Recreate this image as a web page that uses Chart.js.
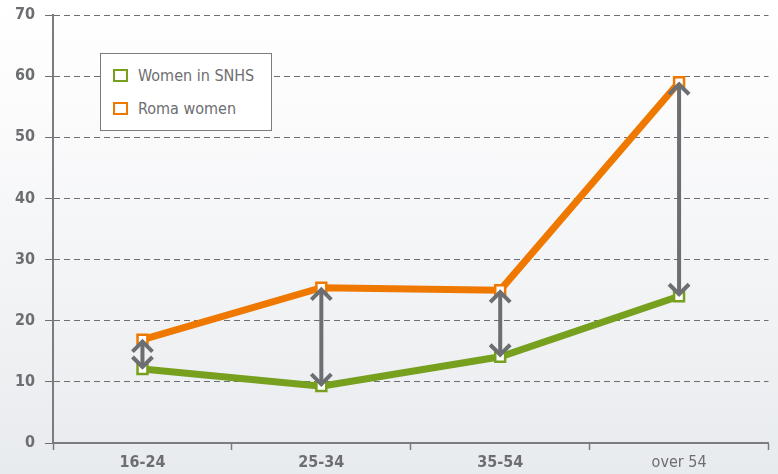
<!DOCTYPE html>
<html>
<head>
<meta charset="utf-8">
<script src="https://cdn.jsdelivr.net/npm/chart.js@4.4.0/dist/chart.umd.min.js"></script>
<style>
  html, body { margin: 0; padding: 0; }
  body { width: 778px; height: 474px; overflow: hidden; }
  .wrap {
    position: relative; width: 778px; height: 474px;
    background: linear-gradient(to bottom, #ffffff 0%, #fbfbfc 25%, #e8ebee 100%);
  }
  #legend {
    position: absolute; left: 100px; top: 53px; width: 172px; height: 78px;
    border: 1.5px solid #7c7c80; background: #fff; box-sizing: border-box;
    font-family: 'DejaVu Sans Condensed', sans-serif;
    font-size: 16px; color: #6d6e71;
  }
  #legend div { position: absolute; left: 12px; height: 20px; line-height: 20px; }
  #legend span.box {
    display: inline-block; width: 11px; height: 9px; border: 2.5px solid; vertical-align: -1px;
    margin-right: 10px; background: #fff;
  }
</style>
</head>
<body>
<div class="wrap">
  <canvas id="gap" width="778" height="474"></canvas>
  <div id="legend"></div>
</div>
<script>
const ageGroups = ['16-24', '25-34', '35-54', 'over 54'];
const womenSNHS = [12.1, 9.3, 14.1, 24.0];
const romaWomen = [16.9, 25.4, 25.0, 59.0];
const yTicks = [0, 10, 20, 30, 40, 50, 60, 70];

const green = '#76a01e';
const orange = '#ef7800';
const grey = '#6d6e71';
const font = "'DejaVu Sans Condensed', sans-serif";

// double headed arrows between the two series
const gapArrows = {
  id: 'gapArrows',
  afterDatasetsDraw(chart) {
    const ctx = chart.ctx;
    const x = chart.scales.x, y = chart.scales.y;
    ctx.save();
    ctx.strokeStyle = grey;
    ctx.lineWidth = 4;
    ctx.lineCap = 'butt';
    ctx.lineJoin = 'miter';
    ageGroups.forEach((g, i) => {
      const px = x.getPixelForValue(i);
      const top = y.getPixelForValue(romaWomen[i]) + 2;
      const bot = y.getPixelForValue(womenSNHS[i]) - 2;
      const h = 10;
      ctx.beginPath();
      ctx.moveTo(px, top); ctx.lineTo(px, bot);
      ctx.stroke();
      ctx.beginPath();
      ctx.moveTo(px - h, top + h); ctx.lineTo(px, top); ctx.lineTo(px + h, top + h);
      ctx.moveTo(px - h, bot - h); ctx.lineTo(px, bot); ctx.lineTo(px + h, bot - h);
      ctx.stroke();
    });
    ctx.restore();
  }
};

const chart = new Chart(document.getElementById('gap'), {
  type: 'line',
  data: {
    labels: ageGroups,
    datasets: [{
      label: 'Women in SNHS',
      data: womenSNHS,
      borderColor: green,
      backgroundColor: '#fff',
      borderWidth: 7,
      pointStyle: 'rect',
      pointRadius: 7,
      pointBorderWidth: 2.5,
      pointBorderColor: green,
      pointBackgroundColor: '#fff'
    }, {
      label: 'Roma women',
      data: romaWomen,
      borderColor: orange,
      backgroundColor: '#fff',
      borderWidth: 7,
      pointStyle: 'rect',
      pointRadius: 7,
      pointBorderWidth: 2.5,
      pointBorderColor: orange,
      pointBackgroundColor: '#fff'
    }]
  },
  options: {
    responsive: false,
    animation: false,
    layout: { padding: { top: 0, right: 4, left: 5, bottom: -2 } },
    plugins: { legend: { display: false }, tooltip: { enabled: false } },
    scales: {
      x: {
        offset: true,
        grid: { drawOnChartArea: false, drawTicks: true, tickLength: 7, tickColor: '#7c7c80', tickWidth: 1.5, offset: true },
        border: { color: '#7c7c80', width: 2 },
        ticks: {
          color: grey,
          padding: 5,
          font: (c) => ({ family: font, size: 16, lineHeight: 1, weight: c.index < 3 ? 'bold' : 'normal' })
        }
      },
      y: {
        min: 0, max: 70,
        afterBuildTicks: (s) => { s.ticks = yTicks.map(v => ({ value: v })); },
        afterFit: (s) => { s.paddingTop = 15; },
        grid: { color: '#6f6f73', lineWidth: 1, tickLength: 8, tickColor: '#6f6f73' },
        border: { color: '#7c7c80', width: 2, dash: [6, 4] },
        ticks: { color: grey, padding: 10, font: { family: font, size: 16, weight: 'bold' } }
      }
    }
  },
  plugins: [gapArrows]
});

// legend from the dataset list
const legend = document.getElementById('legend');
chart.data.datasets.forEach((ds, i) => {
  const row = document.createElement('div');
  row.style.top = (12 + i * 33) + 'px';
  row.innerHTML = '<span class="box" style="border-color:' + ds.borderColor + '"></span>' + ds.label;
  legend.appendChild(row);
});
</script>
</body>
</html>
